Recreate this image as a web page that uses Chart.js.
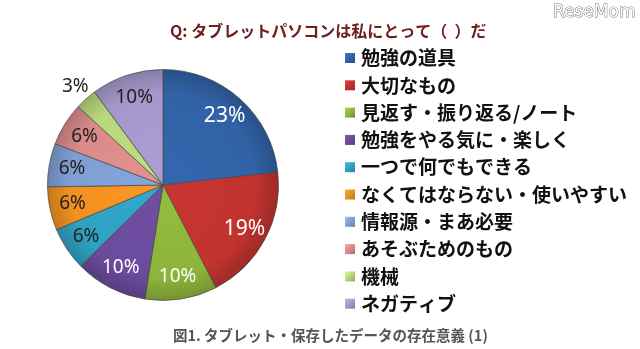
<!DOCTYPE html>
<html>
<head>
<meta charset="utf-8">
<script src="https://cdn.jsdelivr.net/npm/chart.js@4/dist/chart.umd.min.js"></script>
<style>
  html, body { margin: 0; padding: 0; background: #fff; }
  #wrap { position: relative; width: 640px; height: 349px; }
</style>
</head>
<body>
<div id="wrap"><canvas id="myChart" width="640" height="349"></canvas></div>
<script>
// data
const labels = ["勉強の道具", "大切なもの", "見返す・振り返る/ノート", "勉強をやる気に・楽しく",
  "一つで何でもできる", "なくてはならない・使いやすい", "情報源・まあ必要", "あそぶためのもの", "機械", "ネガティブ"];
const values = [23, 19, 10, 10, 6, 6, 6, 6, 3, 10];
const colors = ["#3162a6", "#c0332f", "#8db43b", "#6b4b9c", "#2fa1c3", "#f29120", "#7f9fd3", "#d98b89", "#b8d67c", "#a597ca"];
const labelColors = ["#fff", "#fff", "#fff", "#fff", "#222", "#222", "#222", "#222", "#222", "#222"];

const titleText = "Q: タブレットパソコンは私にとって（  ）だ";
const captionText = "図1. タブレット・保存したデータの存在意義 (1)";

function shade(hex, f) {
  let n = parseInt(hex.slice(1), 16);
  let r = (n >> 16) & 255, g = (n >> 8) & 255, b = n & 255;
  r = Math.round(r * f); g = Math.round(g * f); b = Math.round(b * f);
  return "rgb(" + Math.min(r,255) + "," + Math.min(g,255) + "," + Math.min(b,255) + ")";
}

const extras = {
  id: "extras",
  afterDatasetsDraw(chart) {
    const ctx = chart.ctx;
    const meta = chart.getDatasetMeta(0);
    ctx.save();
    // value labels
    meta.data.forEach((arc, i) => {
      const p = arc.getProps(["startAngle", "endAngle", "outerRadius", "x", "y"], true);
      const mid = (p.startAngle + p.endAngle) / 2;
      const rr = values[i] < 5 ? p.outerRadius * 1.14 : p.outerRadius * 0.8;
      ctx.fillStyle = labelColors[i];
      ctx.font = (i < 2 ? "21px" : "19px") + " 'Noto Sans'";
      ctx.textAlign = "center";
      ctx.textBaseline = "middle";
      ctx.fillText(values[i] + "%", p.x + Math.cos(mid) * rr, p.y + Math.sin(mid) * rr);
    });
    // legend
    ctx.textAlign = "left";
    ctx.textBaseline = "middle";
    labels.forEach((lab, i) => {
      const y = 58 + i * 27.3;
      const g = ctx.createLinearGradient(345, y - 5, 355, y + 5);
      g.addColorStop(0, shade(colors[i], 1.2));
      g.addColorStop(1, shade(colors[i], 0.8));
      ctx.fillStyle = g;
      ctx.fillRect(345, y - 5, 10, 10);
      ctx.fillStyle = "#111";
      ctx.font = "bold 19px 'Noto Sans CJK JP'";
      ctx.fillText(lab, 361, y);
    });
    // title
    ctx.fillStyle = "#6e2020";
    ctx.font = "bold 16px 'Noto Sans CJK JP'";
    ctx.fillText(titleText, 170, 31);
    // caption
    ctx.fillStyle = "#555";
    ctx.font = "bold 14.5px 'Noto Sans CJK JP'";
    ctx.fillText(captionText, 173, 335);
    // logo
    ctx.font = "17px 'DejaVu Sans'";
    ctx.lineWidth = 1;
    ctx.strokeStyle = "#777";
    ctx.strokeText("ReseMom", 553, 13);
    ctx.fillStyle = "#fff";
    ctx.fillText("ReseMom", 553, 13);
    ctx.restore();
  }
};

new Chart(document.getElementById("myChart").getContext("2d"), {
  type: "pie",
  data: {
    labels: labels,
    datasets: [{
      data: values,
      backgroundColor: (c) => {
        const base = colors[c.dataIndex];
        const area = c.chart.chartArea;
        if (!area) return base;
        const cx = (area.left + area.right) / 2, cy = (area.top + area.bottom) / 2;
        const r = Math.min(area.width, area.height) / 2;
        const g = c.chart.ctx.createRadialGradient(cx, cy, 0, cx, cy, r);
        g.addColorStop(0, shade(base, 1.05));
        g.addColorStop(0.8, base);
        g.addColorStop(1, shade(base, 0.82));
        return g;
      },
      borderColor: "rgba(70,70,70,0.7)",
      borderWidth: 1
    }]
  },
  plugins: [extras],
  options: {
    responsive: false,
    animation: false,
    layout: { padding: { left: 47, top: 69, right: 361, bottom: 48 } },
    plugins: {
      legend: { display: false },
      tooltip: { enabled: false },
      title: { display: false }
    }
  }
});
</script>
</body>
</html>
